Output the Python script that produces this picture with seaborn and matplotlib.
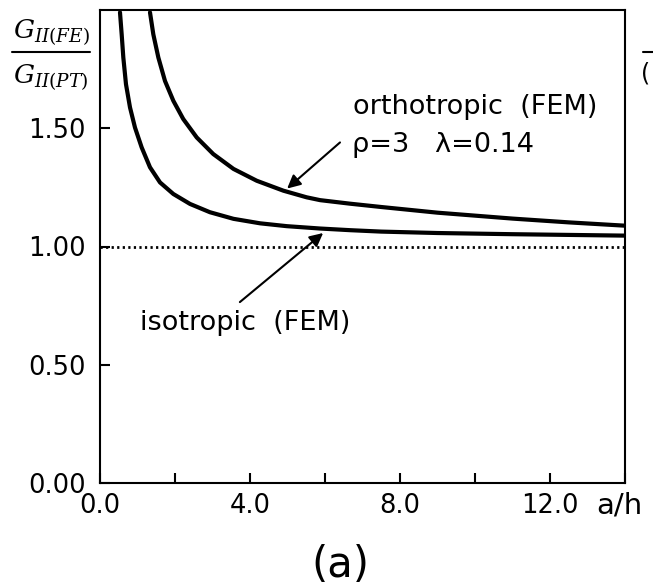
import numpy as np
import pandas as pd
import matplotlib
matplotlib.use("Agg")
import matplotlib.pyplot as plt
import seaborn as sns
from matplotlib.lines import Line2D

# ---- data ----
iso_x = [0.533, 0.578, 0.622, 0.693, 0.80, 0.933, 1.111, 1.333, 1.60, 1.956, 2.40, 2.93,
         3.56, 4.27, 4.98, 5.87, 6.67, 7.5, 9.0, 11.0, 12.5, 14.0]
iso_y = [1.99, 1.897, 1.799, 1.686, 1.588, 1.503, 1.419, 1.335, 1.271, 1.222, 1.180, 1.145,
         1.117, 1.098, 1.086, 1.076, 1.069, 1.063, 1.057, 1.052, 1.049, 1.046]
ort_x = [1.333, 1.422, 1.556, 1.733, 1.956, 2.22, 2.58, 3.02, 3.56, 4.18, 4.89, 5.51,
         5.87, 6.67, 7.5, 9.0, 11.0, 12.5, 14.0]
ort_y = [1.99, 1.897, 1.799, 1.700, 1.616, 1.539, 1.461, 1.391, 1.328, 1.278, 1.236, 1.208,
         1.196, 1.181, 1.167, 1.143, 1.118, 1.102, 1.088]
ref_x = [0.0, 14.0]
ref_y = [1.0, 1.0]
xticks = [0, 2, 4, 6, 8, 10, 12, 14]
xticklabels = ["0.0", "", "4.0", "", "8.0", "", "12.0", ""]
yticks = [0.0, 0.5, 1.0, 1.5]
yticklabels = ["0.00", "0.50", "1.00", "1.50"]

sns.set_theme(style="ticks")
plt.rcParams["font.family"] = ["DejaVu Sans"]
plt.rcParams["mathtext.fontset"] = "dejavuserif"
for k in ["text.color", "axes.labelcolor", "xtick.color", "ytick.color", "axes.edgecolor"]:
    plt.rcParams[k] = "black"

fig = plt.figure(figsize=(6.53, 5.88), dpi=100)
ax = fig.add_axes([100/653, 1-483/588, 525/653, 473/588])

iso = pd.DataFrame({"x": iso_x, "y": iso_y})
ort = pd.DataFrame({"x": ort_x, "y": ort_y})
ref = pd.DataFrame({"x": ref_x, "y": ref_y})

sns.lineplot(data=iso, x="x", y="y", ax=ax, color="black", lw=3.0, sort=False, estimator=None)
sns.lineplot(data=ort, x="x", y="y", ax=ax, color="black", lw=3.0, sort=False, estimator=None)
sns.lineplot(data=ref, x="x", y="y", ax=ax, color="black", lw=2.0, linestyle=(0, (0.8, 1.2)), estimator=None)

ax.set_xlim(0, 14)
ax.set_ylim(0, 2.0)
ax.set_xticks(xticks)
ax.set_xticklabels(xticklabels)
ax.set_yticks(yticks)
ax.set_yticklabels(yticklabels)
ax.set_xlabel("")
ax.set_ylabel("")
for s in ax.spines.values():
    s.set_visible(True)
    s.set_linewidth(1.5)
    s.set_color("black")
ax.tick_params(direction="in", length=7, width=1.5, labelsize=18.5, colors="black")
ax.tick_params(axis="x", pad=7)
ax.tick_params(axis="y", pad=10)

# annotations
ax.text(6.75, 1.59, "orthotropic  (FEM)", fontsize=19.5, va="center", ha="left")
ax.text(6.72, 1.43, "ρ=3   λ=0.14", fontsize=19.5, va="center", ha="left")
ax.text(1.07, 0.675, "isotropic  (FEM)", fontsize=19.5, va="center", ha="left")
ax.annotate("", xy=(4.99, 1.245), xytext=(6.40, 1.44),
            arrowprops=dict(arrowstyle="-|>", color="black", lw=1.5, mutation_scale=20, shrinkA=0, shrinkB=0))
ax.annotate("", xy=(5.95, 1.057), xytext=(3.73, 0.765),
            arrowprops=dict(arrowstyle="-|>", color="black", lw=1.5, mutation_scale=20, shrinkA=0, shrinkB=0))

# x label next to last tick
ax.text(13.85, -0.095, "a/h", fontsize=21, ha="center", va="center")

# y label as a fraction
fig.text(51/653, 1-32/588, r"$G_{II(FE)}$", fontsize=19, ha="center", va="center")
fig.text(51/653, 1-77/588, r"$G_{II(PT)}$", fontsize=19, ha="center", va="center")
fig.add_artist(Line2D([12/653, 90/653], [1-52/588, 1-52/588], color="black", lw=1.5))

# panel label
fig.text(340/653, 1-565/588, "(a)", fontsize=30, ha="center", va="center")

# neighbouring-panel fragment at right edge
fig.add_artist(Line2D([643/653, 1.0], [1-52/588, 1-52/588], color="black", lw=1.5))
fig.text(641/653, 1-74/588, "(", fontsize=17, ha="left", va="center")

fig.savefig("out.png", dpi=100)
